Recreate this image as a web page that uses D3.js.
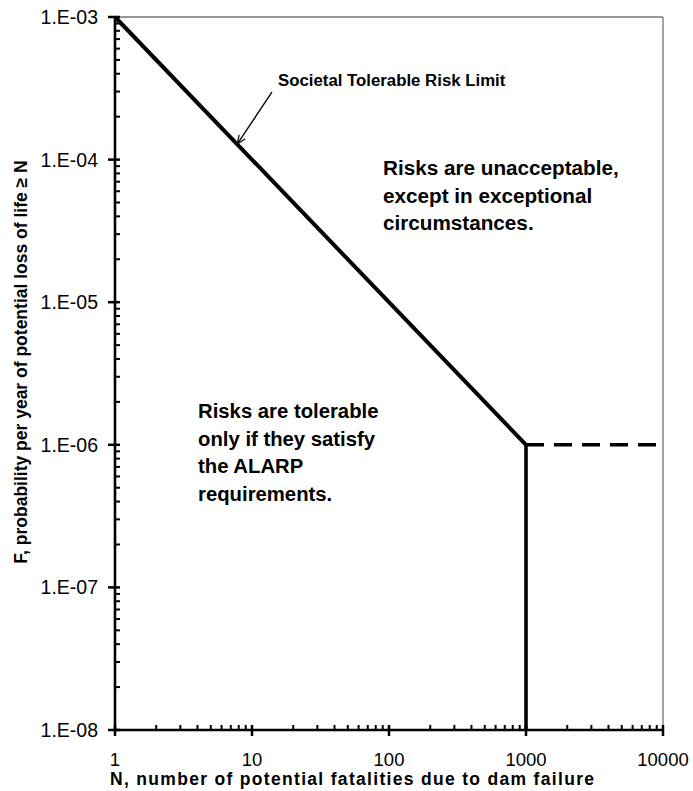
<!DOCTYPE html>
<html>
<head>
<meta charset="utf-8">
<script src="https://cdn.jsdelivr.net/npm/d3@7"></script>
<style>
  html, body { margin: 0; padding: 0; background: #fff; }
  svg { display: block; font-family: "Liberation Sans", Arial, sans-serif; }
</style>
</head>
<body>
<svg id="chart" width="693" height="791"></svg>
<script>
// ---- data ----
const limitN = [1, 1000];          // societal tolerable risk limit (solid diagonal)
const limitF = [1e-3, 1e-6];
const verticalN = [1000, 1000];    // vertical cut-off at N = 1000
const verticalF = [1e-6, 1e-8];
const dashedN = [1000, 10000];     // dashed continuation
const dashedF = [1e-6, 1e-6];
const xTicks = [1, 10, 100, 1000, 10000];
const xTickLabels = ["1", "10", "100", "1000", "10000"];
const yTicks = [1e-3, 1e-4, 1e-5, 1e-6, 1e-7, 1e-8];
const yTickLabels = ["1.E-03", "1.E-04", "1.E-05", "1.E-06", "1.E-07", "1.E-08"];
const xTitle = "N, number of potential fatalities due to dam failure";
const yTitle = "F, probability per year of potential loss of life \u2265 N";
const limitLabel = "Societal Tolerable Risk Limit";
const upperText = ["Risks are unacceptable,", "except in exceptional", "circumstances."];
const lowerText = ["Risks are tolerable", "only if they satisfy", "the ALARP", "requirements."];

// ---- layout ----
const W = 693, H = 791;
const m = { left: 115, top: 17, right: 30, bottom: 61 };
const pw = W - m.left - m.right, ph = H - m.top - m.bottom;

const svg = d3.select("#chart");
const g = svg.append("g").attr("transform", `translate(${m.left},${m.top})`);

const x = d3.scaleLog().domain([1, 10000]).range([0, pw]);
const y = d3.scaleLog().domain([1e-8, 1e-3]).range([ph, 0]);

// minor ticks
const xMinor = [];
for (let d = 1; d < 10000; d *= 10) for (let k = 2; k <= 9; k++) xMinor.push(d * k);
const yMinor = [];
for (let d = 1e-8; d < 1e-3 * 0.99; d *= 10) for (let k = 2; k <= 9; k++) yMinor.push(d * k);

// frame top & right (thin)
g.append("line").attr("x1", 0).attr("x2", pw).attr("y1", 0).attr("y2", 0)
  .attr("stroke", "#333").attr("stroke-width", 1.2);
g.append("line").attr("x1", pw).attr("x2", pw).attr("y1", 0).attr("y2", ph)
  .attr("stroke", "#666").attr("stroke-width", 1.2);

// x axis
const xAxis = g.append("g").attr("transform", `translate(0,${ph})`);
xAxis.selectAll(".minor").data(xMinor).join("line")
  .attr("x1", d => x(d)).attr("x2", d => x(d)).attr("y1", 0).attr("y2", -5)
  .attr("stroke", "#000").attr("stroke-width", 2);
xAxis.selectAll(".major").data(xTicks).join("line")
  .attr("x1", d => x(d)).attr("x2", d => x(d)).attr("y1", -5).attr("y2", 6)
  .attr("stroke", "#000").attr("stroke-width", 2.5);
xAxis.selectAll(".lab").data(xTicks).join("text")
  .attr("x", d => x(d)).attr("y", 36)
  .attr("text-anchor", "middle").attr("font-size", 18.5).attr("fill", "#000")
  .text((d, i) => xTickLabels[i]);
xAxis.append("line").attr("x1", 0).attr("x2", pw).attr("y1", 0).attr("y2", 0)
  .attr("stroke", "#000").attr("stroke-width", 2.6);

// y axis
const yAxis = g.append("g");
yAxis.selectAll(".minor").data(yMinor).join("line")
  .attr("x1", 0).attr("x2", 5).attr("y1", d => y(d)).attr("y2", d => y(d))
  .attr("stroke", "#000").attr("stroke-width", 2);
yAxis.selectAll(".major").data(yTicks).join("line")
  .attr("x1", -7).attr("x2", 5).attr("y1", d => y(d)).attr("y2", d => y(d))
  .attr("stroke", "#000").attr("stroke-width", 2.5);
yAxis.selectAll(".lab").data(yTicks).join("text")
  .attr("x", -17).attr("y", d => y(d) + 7)
  .attr("text-anchor", "end").attr("font-size", 19.5).attr("fill", "#000")
  .text((d, i) => yTickLabels[i]);
yAxis.append("line").attr("x1", 0).attr("x2", 0).attr("y1", 0).attr("y2", ph)
  .attr("stroke", "#000").attr("stroke-width", 2.6);

// lines
const line = d3.line().x(d => x(d[0])).y(d => y(d[1]));
g.append("path").datum(d3.zip(limitN, limitF)).attr("d", line)
  .attr("fill", "none").attr("stroke", "#000").attr("stroke-width", 4);
g.append("path").datum(d3.zip(verticalN, verticalF)).attr("d", line)
  .attr("fill", "none").attr("stroke", "#000").attr("stroke-width", 3.6);
g.append("path").datum(d3.zip(dashedN, dashedF)).attr("d", line)
  .attr("fill", "none").attr("stroke", "#000").attr("stroke-width", 3.4)
  .attr("stroke-dasharray", "18,10");

// arrow annotation
svg.append("defs").append("marker").attr("id", "arr")
  .attr("viewBox", "0 0 10 10").attr("refX", 10).attr("refY", 5)
  .attr("markerWidth", 9).attr("markerHeight", 9).attr("orient", "auto")
  .attr("markerUnits", "userSpaceOnUse")
  .append("path").attr("d", "M0,1 L10,5 L0,9").attr("fill", "none")
  .attr("stroke", "#000").attr("stroke-width", 1.3);
const tipN = 7.8, tipF = 1e-3 / 7.8;
const tailN = 14, tailF = 2.98e-4;
g.append("line").attr("x1", x(tailN)).attr("y1", y(tailF))
  .attr("x2", x(tipN)).attr("y2", y(tipF))
  .attr("stroke", "#000").attr("stroke-width", 1.3).attr("marker-end", "url(#arr)");

g.append("text").attr("x", x(15.5)).attr("y", y(3.28e-4))
  .attr("font-size", 16.8).attr("font-weight", "bold").attr("fill", "#000")
  .text(limitLabel);

// region texts
function block(lines, n, f, fs) {
  const t = g.append("text").attr("x", x(n)).attr("y", y(f))
    .attr("font-size", fs).attr("font-weight", "bold").attr("fill", "#000");
  lines.forEach((s, i) => t.append("tspan").attr("x", x(n)).attr("dy", i ? 27.6 : 0).text(s));
}
block(upperText, 90.4, 7.8e-5, 20.7);
block(lowerText, 4.04, 1.54e-6, 20.3);

// axis titles
svg.append("text").attr("x", 352).attr("y", 785).attr("text-anchor", "middle")
  .attr("font-size", 17.5).attr("font-weight", "bold").attr("fill", "#000")
  .attr("textLength", 484).attr("lengthAdjust", "spacing")
  .text(xTitle);
svg.append("text").attr("transform", "translate(27,362) rotate(-90)")
  .attr("text-anchor", "middle").attr("font-size", 17.5).attr("font-weight", "bold")
  .attr("fill", "#000").text(yTitle);
</script>
</body>
</html>
